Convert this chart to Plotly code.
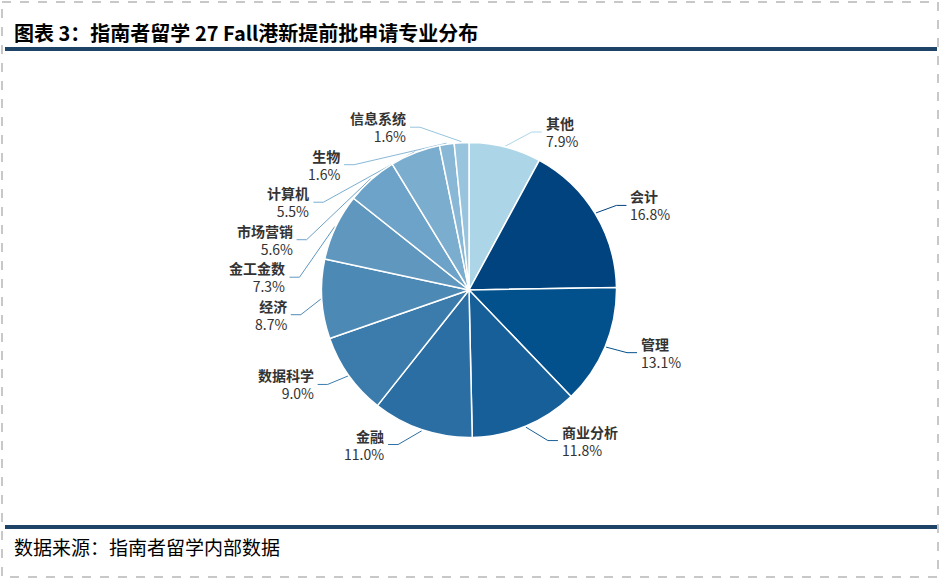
import math
import plotly.graph_objects as go

majors = ["其他", "会计", "管理", "商业分析", "金融", "数据科学", "经济",
          "金工金数", "市场营销", "计算机", "生物", "信息系统"]
shares = [7.9, 16.8, 13.1, 11.8, 11.0, 9.0, 8.7, 7.3, 5.6, 5.5, 1.6, 1.6]
colors = ["#acd6e8", "#00437f", "#03518c", "#175f98", "#2a6ea3", "#3b7cad",
          "#4d89b5", "#5f97bf", "#6da3c8", "#7badcf", "#89b8d7", "#98c4de"]

title = "图表 3：指南者留学 27 Fall港新提前批申请专业分布"
source = "数据来源：指南者留学内部数据"

W, H = 940, 580
CX, CY, R = 469, 290, 147.5
navy = "#1d4466"
cjk = "Noto Sans CJK SC"

fig = go.Figure()

# pie placed in pixel box via domain (margins are zero)
fig.add_trace(go.Pie(
    labels=majors, values=shares, sort=False, direction="clockwise",
    rotation=0, textinfo="none", hoverinfo="label+percent",
    marker=dict(colors=colors, line=dict(color="white", width=1.5)),
    domain=dict(x=[(CX - R) / W, (CX + R) / W],
                y=[1 - (CY + R) / H, 1 - (CY - R) / H]),
    showlegend=False,
))

# label layout: mid angles, then push overlapping labels down per side
total = sum(shares)
cum = 0
items = []
for name, v, c in zip(majors, shares, colors):
    a = (cum + v / 2) / total * 2 * math.pi
    cum += v
    side = 1 if math.sin(a) > 0 else -1
    items.append(dict(name=name, v=v, c=c, a=a, side=side,
                      y=CY - 163 * math.cos(a)))

GAP = 37.5
for side in (1, -1):
    group = sorted([it for it in items if it["side"] == side], key=lambda t: t["y"])
    prev = None
    for it in group:
        if prev is not None and it["y"] < prev + GAP:
            it["y"] = prev + GAP
        prev = it["y"]

annotations = []
for it in items:
    a, s, y = it["a"], it["side"], it["y"]
    x0 = CX + (R + 1) * math.sin(a)
    y0 = CY - (R + 1) * math.cos(a)
    dy = y - CY
    xk = CX + s * math.sqrt(max(170 ** 2 - dy ** 2, 0))
    xe = xk + s * 10
    fig.add_trace(go.Scatter(
        x=[x0, xk, xe], y=[y0, y, y], mode="lines",
        line=dict(color=it["c"], width=1), hoverinfo="skip",
        showlegend=False, xaxis="x", yaxis="y",
    ))
    anchor = "left" if s > 0 else "right"
    annotations.append(dict(
        x=xe + s * 3, y=y, xref="x", yref="y",
        text=f"<b>{it['name']}</b><br>{it['v']:.1f}%",
        showarrow=False, xanchor=anchor, yanchor="middle", align=anchor,
        borderpad=0,
        font=dict(family=cjk, size=14, color="#333333"),
    ))

annotations.append(dict(
    x=12, y=32, xref="x", yref="y", text="<b>" + title + "</b>",
    showarrow=False, xanchor="left", yanchor="middle",
    font=dict(family=cjk, size=20, color="#000000"),
))
annotations.append(dict(
    x=12, y=546, xref="x", yref="y", text=source,
    showarrow=False, xanchor="left", yanchor="middle",
    font=dict(family=cjk, size=19, color="#000000"),
))

shapes = [
    dict(type="rect", xref="x", yref="y", x0=2, x1=938, y0=2, y1=577,
         line=dict(color="#c8c8c8", width=2, dash="dash")),
    dict(type="line", xref="x", yref="y", x0=5, x1=937, y0=49, y1=49,
         line=dict(color=navy, width=4)),
    dict(type="line", xref="x", yref="y", x0=5, x1=937, y0=527, y1=527,
         line=dict(color=navy, width=4)),
]

fig.update_layout(
    width=W, height=H,
    margin=dict(l=0, r=0, t=0, b=0),
    paper_bgcolor="white", plot_bgcolor="white",
    xaxis=dict(range=[0, W], visible=False, fixedrange=True),
    yaxis=dict(range=[H, 0], visible=False, fixedrange=True),
    annotations=annotations, shapes=shapes,
)

# drop the default page margin so pixel positions line up
fig.write_html("out.html", config={"displayModeBar": False},
               post_script="document.body.style.margin='0';")
